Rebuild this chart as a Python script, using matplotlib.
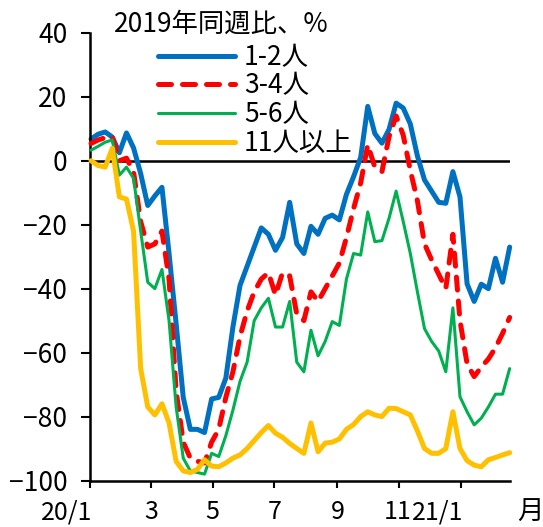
import numpy as np
import pandas as pd
import matplotlib
matplotlib.use('Agg')
import matplotlib.pyplot as plt
import matplotlib.transforms as mtransforms
from matplotlib.lines import Line2D

plt.rcParams['font.family'] = ['Noto Sans CJK JP', 'DejaVu Sans']

# weekly points, Jan 2020 - Feb 2021
weeks = pd.date_range('2020-01-02', periods=60, freq='7D')
base = pd.Timestamp('2020-01-01')

labels = ['1-2人', '3-4人', '5-6人', '11人以上']

p12 = [6.8, 8.3, 9.0, 7.4, 2.5, 8.7, 4.0, -4.0, -14.0, -11.0,
       -8.3, -29.0, -51.0, -74.0, -84.0, -84.0, -85.0, -74.5, -74.0, -68.0,
       -52.0, -39.0, -33.0, -27.0, -21.0, -23.0, -28.0, -24.0, -13.0, -26.0,
       -29.0, -20.5, -23.0, -18.0, -17.0, -18.5, -10.5, -5.0, 1.0, 17.0,
       8.5, 5.5, 9.8, 18.0, 16.5, 11.5, 1.5, -6.0, -9.5, -13.0,
       -13.3, -3.4, -11.3, -38.5, -44.0, -38.6, -40.0, -30.5, -38.0, -27.0]

p34 = [5.4, 6.5, 7.2, 7.5, 0.0, 0.8, -3.5, -19.0, -27.0, -26.0,
       -22.0, -37.0, -72.0, -88.0, -93.0, -94.0, -94.5, -88.0, -84.0, -74.0,
       -66.0, -55.0, -47.0, -41.0, -37.0, -35.0, -42.0, -35.0, -36.0, -48.0,
       -50.0, -41.0, -44.0, -40.0, -36.0, -32.0, -24.0, -15.0, -7.0, 5.0,
       -2.0, -3.4, 7.5, 14.0, 8.0, -3.0, -12.5, -26.0, -31.0, -35.5,
       -40.0, -23.0, -50.0, -63.5, -67.5, -64.5, -62.0, -58.5, -54.0, -49.0]

p56 = [3.3, 4.5, 5.8, 6.5, -4.5, -2.0, -5.5, -22.0, -38.0, -40.0,
       -34.0, -50.0, -77.0, -93.0, -97.0, -97.5, -98.0, -91.5, -92.5, -86.0,
       -78.0, -69.0, -63.0, -50.0, -46.0, -43.0, -52.0, -52.0, -44.0, -63.0,
       -66.0, -53.0, -61.0, -56.5, -50.3, -51.5, -37.0, -29.0, -29.5, -16.0,
       -25.3, -25.0, -18.0, -9.5, -19.0, -29.0, -41.0, -52.5, -56.5, -59.5,
       -66.0, -46.0, -73.8, -78.5, -82.6, -80.5, -77.0, -73.0, -73.0, -65.0]

p11 = [0.0, -1.5, -2.0, 3.9, -11.3, -12.0, -22.0, -65.0, -77.0, -79.5,
       -76.0, -82.0, -94.0, -97.0, -97.5, -96.5, -93.5, -95.5, -95.7, -94.5,
       -93.0, -92.0, -90.0, -87.5, -85.0, -82.8, -85.2, -86.5, -88.4, -90.0,
       -91.5, -82.0, -91.0, -88.3, -88.0, -87.0, -84.0, -82.5, -80.0, -78.5,
       -79.5, -80.0, -77.4, -77.5, -78.5, -79.5, -84.5, -90.0, -91.5, -91.5,
       -90.0, -78.5, -90.0, -93.8, -95.2, -95.7, -93.5, -92.8, -92.0, -91.3]

tick_dates = pd.to_datetime(['2020-01-01', '2020-03-01', '2020-05-01', '2020-07-01',
                             '2020-09-01', '2020-11-01', '2021-01-01'])
tick_labels = ['20/1', '3', '5', '7', '9', '11', '21/1']
yticks = [-100, -80, -60, -40, -20, 0, 20, 40]

x = (weeks - base).days.values
tick_x = (tick_dates - base).days.values
fs = 19
W, H = 543, 527

fig = plt.figure(figsize=(W / 100, H / 100), dpi=100)
ax = fig.add_axes([0.1657, 0.0882, 0.7729, 0.8495])

ax.axhline(0, color='black', lw=1.8, zorder=1)

styles = [
    dict(color='#0070C0', lw=3.6, solid_capstyle='round', solid_joinstyle='round'),
    dict(color='#FF0000', lw=3.6, dashes=(2.6, 2.2), dash_capstyle='round',
         dash_joinstyle='round'),
    dict(color='#00B050', lw=2.2, solid_capstyle='round', solid_joinstyle='round'),
    dict(color='#FFC000', lw=3.6, solid_capstyle='round', solid_joinstyle='round'),
]

for k, (vals, st) in enumerate(zip([p12, p34, p56, p11], styles)):
    ax.plot(x, vals, zorder=2 + k, clip_on=False, **st)

ax.set_xlim(0, 414)
ax.set_ylim(-100, 40)

ax.spines['top'].set_visible(False)
ax.spines['right'].set_visible(False)
for s in ['left', 'bottom']:
    ax.spines[s].set_linewidth(1.8)

ax.set_yticks(yticks)
ax.set_xticks(tick_x)
ax.set_xticklabels([])
ax.tick_params(axis='y', length=6.3, width=1.5, pad=10, labelsize=fs)
ax.tick_params(axis='x', length=4.7, width=1.5)

# month labels: year labels sit flush right against their tick
trans = mtransforms.blended_transform_factory(ax.transData, fig.transFigure)
label_y = 1 - 512 / H
for tx, tl in zip(tick_x, tick_labels):
    if '/' in tl:
        off = mtransforms.ScaledTranslation(2 / 100, 0, fig.dpi_scale_trans)
        ax.text(tx, label_y, tl, fontsize=18, ha='right', va='center',
                transform=trans + off)
    elif tl == '11':
        off = mtransforms.ScaledTranslation(-2 / 100, 0, fig.dpi_scale_trans)
        ax.text(tx, label_y, tl, fontsize=18, ha='center', va='center',
                transform=trans + off)
    else:
        ax.text(tx, label_y, tl, fontsize=18, ha='center', va='center',
                transform=trans)

fig.text(114 / W, 1 - 24 / H, '2019年同週比、%', fontsize=fs, va='center', ha='left')
fig.text(530 / W, label_y, '月', fontsize=fs, va='center', ha='center')

# legend keys drawn by hand so the rows sit where they should
row_y = [56.4, 84.3, 113.2, 142.0]
for lab, st, ry in zip(labels, styles, row_y):
    yy = 1 - ry / H
    fig.add_artist(Line2D([157.5 / W, 235.4 / W], [yy, yy],
                          transform=fig.transFigure, **st))
    fig.text(244 / W, 1 - (ry + 1.5) / H, lab, fontsize=fs, va='center', ha='left')

fig.savefig('out.png', dpi=100)
